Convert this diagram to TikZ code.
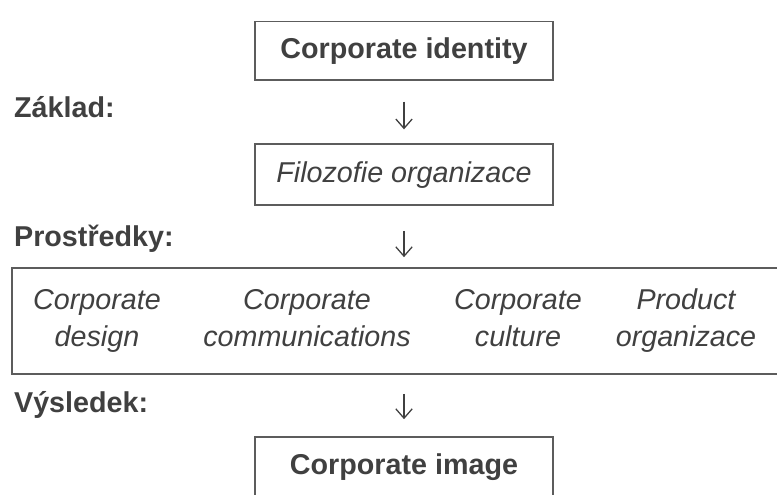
\documentclass[tikz,border=0pt]{standalone}
\usepackage{fontspec}
\setmainfont{Liberation Sans}
\usetikzlibrary{arrows.meta,positioning,calc}
\definecolor{Ink}{HTML}{404040}
\definecolor{Frame}{HTML}{5C5C5C}
\newcommand{\tworows}[2]{\strut#1\\\strut#2}
\tikzset{
  stagebox/.style={draw=Frame, line width=1.4pt, minimum width=8.94cm,
    minimum height=1.75cm, align=center, text=Ink,
    font=\fontsize{24.5}{31}\selectfont#1},
  stagebox/.default={\bfseries},
  stagelabel/.style={anchor=base west, text=Ink,
    font=\fontsize{24.5}{31}\selectfont\bfseries},
  itemtext/.style={align=center, text=Ink, inner sep=0pt,
    font=\fontsize{24.5}{31.5}\selectfont\itshape},
  downarr/.style={-{Straight Barb[length=8pt,width=14pt]}, line width=1.1pt, color=Ink},
}

\begin{document}
\begin{tikzpicture}
  \useasboundingbox (0,0) rectangle (23.31,-14.85);
  \clip (0,0) rectangle (23.31,-14.85);

  % the chain of boxes
  \node[stagebox] (ident) at (12.12,-1.52) {Corporate identity};
  \node[stagebox=\itshape, minimum height=1.83cm] (filo) at (12.12,-5.24)
    {Filozofie organizace};
  \node[draw=Frame, line width=1.4pt, minimum width=23.64cm, minimum height=3.18cm]
    (means) at (12.18,-9.63) {};
  \node[stagebox, minimum height=1.8cm] (image) at (12.12,-14.01) {Corporate image};

  % the four means inside the wide box
  \node[itemtext] (design) at (2.91,-9.63)  {\tworows{Corporate}{design}};
  \node[itemtext] (comm)   at (9.21,-9.63)  {\tworows{Corporate}{communications}};
  \node[itemtext] (cult)   at (15.54,-9.63) {\tworows{Corporate}{culture}};
  \node[itemtext] (prod)   at (20.58,-9.63) {\tworows{Product}{organizace}};

  % row labels on the left
  \node[stagelabel] (zaklad)  at (0.3,-3.54)  {Základ:};
  \node[stagelabel] (prostr)  at (0.3,-7.41)  {Prostředky:};
  \node[stagelabel] (vysled)  at (0.3,-12.39) {Výsledek:};

  \draw[downarr, shorten <=0.63cm, shorten >=0.42cm] (ident) -- (filo);
  \draw[downarr, shorten <=0.75cm, shorten >=0.3cm] (filo) -- (filo |- means.north);
  \draw[downarr, shorten <=0.57cm, shorten >=0.51cm] (image |- means.south) -- (image);
\end{tikzpicture}
\end{document}
